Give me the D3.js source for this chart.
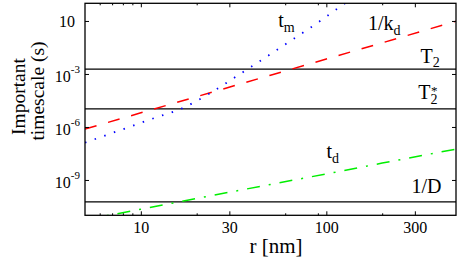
<!DOCTYPE html>
<html>
<head>
<meta charset="utf-8">
<script src="https://cdn.jsdelivr.net/npm/d3@7"></script>
</head>
<body style="margin:0">
<script>
// values (log-log plot)
const rGrid = [5, 10, 20, 50, 100, 200, 500];
const invKd = [7.6e-7, 6.3e-6, 5.2e-5, 8.5e-4, 7.0e-3, 5.8e-2, 0.97];
const tD = [5.6e-12, 2.2e-11, 9.0e-11, 5.6e-10, 2.2e-9, 9.0e-9, 5.6e-8];
const rM = [5, 8, 12.4, 15.9, 23.1, 32.6, 46.3, 65.1, 90, 126, 150];
const tM = [1.3e-7, 7.4e-7, 3.8e-6, 9.1e-6, 7.1e-5, 7.1e-4, 7.8e-3, 8.3e-2, 0.81, 10, 34];
const levelNames = ["T2", "T2*", "1/D"];
const levelValues = [1.9e-3, 1.05e-5, 5.7e-11];
const xTicks = [10, 30, 100, 300];
const xMinor = [6, 7, 8, 9, 20, 60, 90, 200];
const yTicks = [1e-9, 1e-6, 1e-3, 1];
const yTickExp = ["-9", "-6", "-3", ""];

const fontName = "Liberation Serif";

var margin = { top: 3.3, right: 7, bottom: 47.7, left: 85 },
    width = 463 - margin.left - margin.right,
    height = 263 - margin.top - margin.bottom;

var root = d3.select("body")
    .append("svg")
    .attr("width", 463)
    .attr("height", 263)
    .style("font-family", fontName);

var svg = root.append("g")
    .attr("transform", "translate(" + margin.left + "," + margin.top + ")");

let x = d3.scaleLog().domain([5, 500]).range([0, width]);
let y = d3.scaleLog().domain([1e-11, 10]).range([height, 0]);

svg.append("clipPath").attr("id", "clip")
    .append("rect").attr("width", width).attr("height", height);

let plot = svg.append("g").attr("clip-path", "url(#clip)");

// horizontal levels
plot.selectAll(".level")
    .data(levelValues)
    .enter()
    .append("line")
    .attr("class", "level")
    .attr("x1", x(5)).attr("x2", x(500))
    .attr("y1", d => y(d)).attr("y2", d => y(d))
    .attr("stroke", "#000")
    .attr("stroke-width", 1.2);

let line = d3.line().x(d => x(d[0])).y(d => y(d[1]));

plot.append("path")
    .datum(d3.zip(rGrid, tD))
    .attr("d", line)
    .attr("fill", "none")
    .attr("stroke", "#00ee00")
    .attr("stroke-width", 1.5)
    .attr("stroke-dasharray", "13,9,2,9");

plot.append("path")
    .datum(d3.zip(rGrid, invKd))
    .attr("d", line)
    .attr("fill", "none")
    .attr("stroke", "#ff0000")
    .attr("stroke-width", 1.5)
    .attr("stroke-dasharray", "12,12");

plot.append("path")
    .datum(d3.zip(rM, tM))
    .attr("d", line.curve(d3.curveMonotoneX))
    .attr("fill", "none")
    .attr("stroke", "#0000ff")
    .attr("stroke-width", 1.8)
    .attr("stroke-dasharray", "1.5,8.7");

// axes, ticks pointing inward
function styleAxis(g) {
    g.attr("font-family", fontName);
    g.select(".domain").remove();
    g.selectAll(".tick line").attr("stroke", "#000").attr("stroke-width", 1);
}

svg.append("g")
    .attr("transform", "translate(0," + height + ")")
    .call(d3.axisBottom(x).tickValues(xTicks).tickSize(-4).tickPadding(6.3).tickFormat(d3.format("d")))
    .call(styleAxis)
    .selectAll("text")
    .attr("font-family", fontName)
    .style("font-family", fontName)
    .style("font-size", "16px")
    .attr("fill", "#000");

svg.append("g")
    .attr("transform", "translate(0," + height + ")")
    .call(d3.axisBottom(x).tickValues(xMinor).tickSize(-2).tickFormat(""))
    .call(styleAxis);

svg.append("g")
    .call(d3.axisTop(x).tickValues(xTicks).tickSize(-4).tickFormat(""))
    .call(styleAxis);

svg.append("g")
    .call(d3.axisTop(x).tickValues(xMinor).tickSize(-2).tickFormat(""))
    .call(styleAxis);

svg.append("g")
    .attr("transform", "translate(" + width + ",0)")
    .call(d3.axisRight(y).tickValues(yTicks).tickSize(-4).tickFormat(""))
    .call(styleAxis);

let yAxis = svg.append("g")
    .call(d3.axisLeft(y).tickValues(yTicks).tickSize(-4).tickFormat(""))
    .call(styleAxis);

yAxis.selectAll(".tick").each(function (d, i) {
    let exp = yTickExp[i];
    let t = d3.select(this).append("text")
        .attr("font-family", fontName)
        .style("font-family", fontName)
        .attr("text-anchor", "end")
        .attr("fill", "#000")
        .attr("x", exp ? -5 : -10)
        .attr("y", exp ? 8 : 5.5)
        .style("font-size", "16px");
    t.append("tspan").text("10");
    if (exp) {
        t.append("tspan").attr("dy", -9).style("font-size", "11px").text(exp);
    }
});

// frame
svg.append("rect")
    .attr("width", width).attr("height", height)
    .attr("fill", "none")
    .attr("stroke", "#000")
    .attr("stroke-width", 1.3);

// plain text helper
function addText(px, py, size, str) {
    return root.append("text")
        .attr("font-family", fontName)
        .style("font-family", fontName)
        .attr("x", px).attr("y", py)
        .style("font-size", size + "px")
        .text(str);
}

// axis titles
addText(276, 253, 21, "r [nm]").attr("text-anchor", "middle");
addText(0, 0, 19.5, "Important")
    .attr("transform", "translate(25,96.5) rotate(-90)")
    .attr("text-anchor", "middle");
addText(0, 0, 19.5, "timescale (s)")
    .attr("transform", "translate(44,91) rotate(-90)")
    .attr("text-anchor", "middle");

// curve labels
function addLabel(px, py, main, sub, subDy) {
    let t = addText(px, py, 20, null);
    t.append("tspan").text(main);
    if (sub) t.append("tspan").attr("dy", subDy).style("font-size", "14px").text(sub);
    return t;
}

addLabel(278.3, 26.7, "t", "m", 5);
addLabel(368, 30, "1/k", "d", 5);
addLabel(420.5, 63.3, "T", "2", 4);
addLabel(418.3, 99.3, "T", "2", 5);
// star sits above the subscript 2 of T2*
addText(431, 95, 13, "*");
addLabel(326.5, 158.3, "t", "d", 5);
addLabel(411.5, 193.3, "1/D");
</script>
</body>
</html>
